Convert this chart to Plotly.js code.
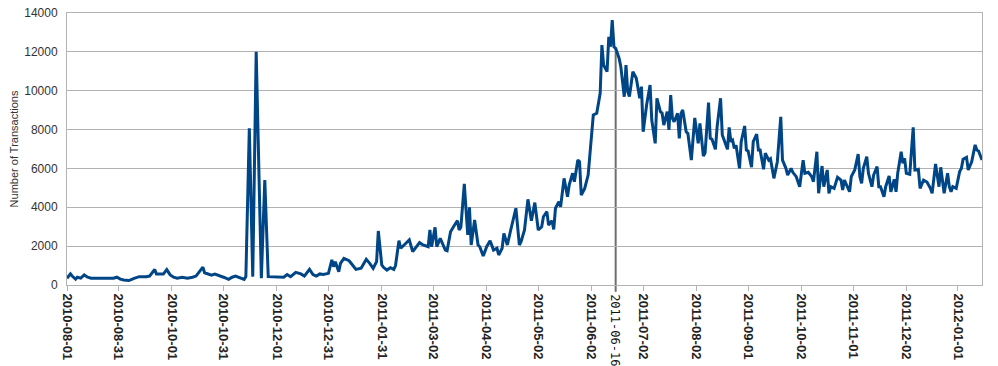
<!DOCTYPE html>
<html>
<head>
<meta charset="utf-8">
<script src="https://cdn.plot.ly/plotly-3.0.1.min.js"></script>
<style>html,body{margin:0;padding:0;background:#fff;}#chart{width:998px;height:366px;}</style>
</head>
<body>
<div id="chart"></div>
<script>
// Start date of the daily series; x values are day offsets from it
const startDate = '2010-08-01';
const dayOffsets = [
0,2,3,5,6,8,10,12,14,20,27,29,31,33,36,39,42,46,48,51,52,54,56,58,60,62,64,67,70,73,75,77,79,80,82,84,86,88,91,94,96,98,101,103,104,
106,108,110,113,115,117,120,126,128,130,133,136,138,141,143,145,147,149,152,154,155,156,158,159,161,164,166,168,171,174,176,178,180,181,183,184,186,188,190,191,
193,194,196,199,201,203,205,207,210,211,212,214,215,217,220,221,223,225,227,228,229,231,232,233,234,235,237,239,240,242,244,246,248,250,251,253,254,256,258,261,263,264,266,268,270,272,274,276,277,279,280,282,283,284,286,287,
289,291,292,294,295,297,298,299,301,303,304,306,308,310,311,312,314,315,316,317,318,319,321,322,324,325,326,327,329,331,333,334,335,337,339,340,342,343,345,346,347,349,350,351,352,353,355,356,357,358,360,361,363,365,367,
368,370,371,373,374,375,377,378,380,381,382,384,385,386,387,388,389,391,392,394,395,396,398,399,401,402,403,405,406,408,409,410,411,413,415,416,418,419,421,422,424,426,427,428,429,431,433,434,436,437,439,440,442,443,444,446,448,450,451,
452,455,456,458,460,461,462,463,465,466,468,469,471,472,473,475,476,478,479,481,482,483,485,486,487,488,490,492,493,495,496,498,500,502,503,505,506,507,508,510,512,513,514,515,517,519,520,521,523,524,526,528,529,530,532
];
const transactions = [
350,570,460,300,400,350,515,400,350,360,350,400,300,260,230,345,430,430,460,800,560,560,560,790,520,400,345,400,345,400,460,690,920,630,560,510,560,510,400,290,400,460,345,290,430,
8065,430,12000,345,5400,430,430,400,540,430,650,570,460,810,540,460,570,540,600,1290,940,1200,685,1115,1370,1250,1030,805,860,1320,1115,860,1200,2780,1030,910,770,890,805,1000,
2280,1890,2060,2320,1715,1970,2180,2060,1970,2830,1970,2970,1970,2400,1800,1765,2745,3040,3310,2830,2970,5200,4030,2575,4000,2060,3345,2060,1970,1490,1970,2280,1800,1890,1545,1890,2660,2060,2830,3950,2060,2230,2830,4410,3310,4240,2830,3000,3515,3775,3090,3310,2865,3950,4290,4030,
5490,4545,5150,5750,5320,6430,6350,4630,4975,5660,6690,8750,8835,9865,12350,11320,10980,12780,12265,13640,12265,12180,11670,11240,9690,11320,9950,9700,10980,10640,9610,10210,7890,9265,10295,8490,7290,9610,8920,8850,8235,8920,7980,9780,8580,8400,8835,7550,8835,9010,7890,7800,6430,8600,7290,
8320,6640,6800,9385,7550,7500,6985,8150,9610,7720,7500,6985,8115,7375,7450,7035,7200,6005,7375,8185,6950,6900,6060,7375,7770,6950,6950,5955,6780,6430,6500,6060,5490,6345,8660,6430,6005,5660,6005,5800,5575,5060,5700,6430,5750,5800,5575,5320,6860,4720,6125,5060,5920,4720,5060,4975,5540,5400,4890,
5400,4800,5575,5920,6740,5575,5235,6005,6600,5750,5060,5660,6090,5060,5060,4545,5060,5610,4800,5440,4800,5750,6860,6260,6520,5750,5700,8115,5920,5955,4975,5400,5300,4975,4720,6230,5750,5060,6060,4720,5750,5060,4800,5060,4975,5835,6000,6470,6570,5920,6345,7210,6950,6900,6430
];
const tickDates = ['2010-08-01','2010-08-31','2010-10-01','2010-10-31','2010-12-01','2010-12-31','2011-01-31','2011-03-02','2011-04-02','2011-05-02','2011-06-02','2011-07-02','2011-08-02','2011-09-01','2011-10-02','2011-11-01','2011-12-02','2012-01-01'];
const markerDate = '2011-06-16';
const yTicks = [0,2000,4000,6000,8000,10000,12000,14000];
const yTitle = 'Number of Transactions';

function offsetToDate(d){
  const p = startDate.split('-').map(Number);
  const t = Date.UTC(p[0], p[1]-1, p[2]) + d*86400000;
  return new Date(t).toISOString().slice(0,10);
}
const dates = dayOffsets.map(offsetToDate);
const yMax = yTicks[yTicks.length-1];
const markerIdx = dates.indexOf(markerDate);
const markerVal = markerIdx >= 0 ? transactions[markerIdx] : yMax;

const FONT = '"Liberation Sans", Arial, sans-serif';
const grid = '#b3b3b3';

const trace = {
  x: dates, y: transactions, type: 'scatter', mode: 'lines',
  line: {color: '#004586', width: 3, shape: 'linear'},
  hoverinfo: 'x+y'
};

const layout = {
  width: 998, height: 366,
  margin: {l: 67, r: 16, t: 13, b: 81},
  paper_bgcolor: '#ffffff', plot_bgcolor: '#ffffff',
  showlegend: false,
  font: {family: FONT, color: '#333333'},
  xaxis: {
    type: 'date',
    range: [dates[0], dates[dates.length-1]],
    tickmode: 'array', tickvals: tickDates, ticktext: tickDates,
    tickangle: 90,
    tickfont: {family: FONT, size: 13, color: '#222222', weight: 'bold'},
    ticks: 'outside', ticklen: 5, tickcolor: grid, tickwidth: 1,
    showgrid: false, zeroline: false,
    showline: true, linecolor: grid, linewidth: 1, mirror: true
  },
  yaxis: {
    range: [0, yMax],
    tickmode: 'array', tickvals: yTicks, ticktext: yTicks.map(String),
    tickfont: {family: FONT, size: 12, color: '#333333'},
    ticks: '', ticklabelstandoff: 6,
    showgrid: true, gridcolor: grid, gridwidth: 1,
    zeroline: false,
    showline: true, linecolor: grid, linewidth: 1, mirror: true,
    title: {text: yTitle, font: {family: FONT, size: 11, color: '#333333'}, standoff: 3}
  },
  shapes: [{
    type: 'line', xref: 'x', yref: 'paper',
    x0: markerDate, x1: markerDate,
    y0: -0.025, y1: markerVal / yMax,
    line: {color: '#6e6e6e', width: 2},
    layer: 'below'
  }],
  annotations: [{
    x: markerDate, xref: 'x', y: -0.025, yref: 'paper',
    text: markerDate, showarrow: false, textangle: 90,
    xanchor: 'center', yanchor: 'top',
    font: {family: '"DejaVu Sans Mono", monospace', size: 12, color: '#111111'}
  }]
};

Plotly.newPlot('chart', [trace], layout, {displayModeBar: false, staticPlot: true});
</script>
</body>
</html>
